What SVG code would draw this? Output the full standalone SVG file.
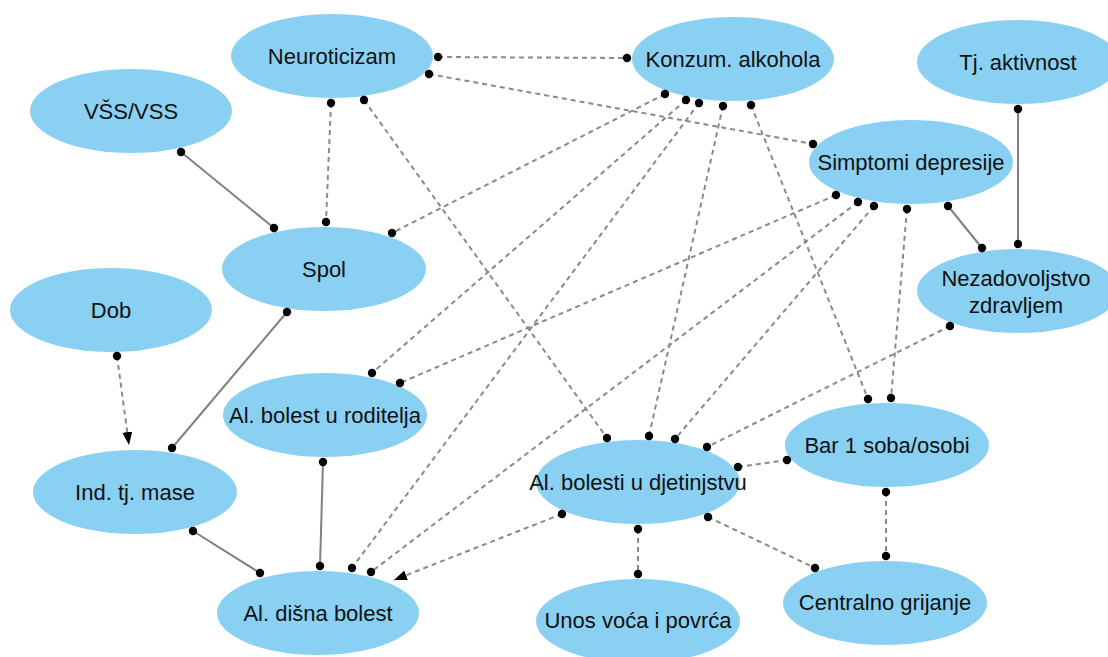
<svg xmlns="http://www.w3.org/2000/svg" width="1108" height="657" viewBox="0 0 1108 657">
<style>
.node ellipse{fill:#8ad0f3;stroke:none}
.node text{font-family:"Liberation Sans",Arial,sans-serif;font-size:22px;fill:#111;text-anchor:middle}
.dash{stroke:#8a8a8a;stroke-width:2;stroke-dasharray:5 4;fill:none}
.solid{stroke:#808080;stroke-width:2;fill:none}
.dot{fill:#000}
</style>
<defs>
<marker id="arr" markerWidth="14" markerHeight="10" refX="13" refY="5" orient="auto" markerUnits="userSpaceOnUse">
<path d="M0,0 L13,5 L0,10 Z" fill="#000"/>
</marker>
</defs>
<g id="n-neuroticizam" class="node"><ellipse cx="332" cy="56" rx="101" ry="42"/><text x="332" y="64">Neuroticizam</text></g>
<g id="n-konzum" class="node"><ellipse cx="733" cy="59" rx="101" ry="42"/><text x="733" y="67">Konzum. alkohola</text></g>
<g id="n-tjakt" class="node"><ellipse cx="1018" cy="62" rx="101" ry="42"/><text x="1018" y="70">Tj. aktivnost</text></g>
<g id="n-vss" class="node"><ellipse cx="131" cy="111" rx="101" ry="42"/><text x="131" y="119">VŠS/VSS</text></g>
<g id="n-simptomi" class="node"><ellipse cx="911" cy="162" rx="102" ry="42"/><text x="911" y="170">Simptomi depresije</text></g>
<g id="n-spol" class="node"><ellipse cx="324" cy="269" rx="102" ry="42"/><text x="324" y="277">Spol</text></g>
<g id="n-nezad" class="node"><ellipse cx="1018" cy="291" rx="101" ry="42"/><text x="1016" y="286">Nezadovoljstvo</text><text x="1016" y="313">zdravljem</text></g>
<g id="n-dob" class="node"><ellipse cx="111" cy="310" rx="101" ry="42"/><text x="111" y="318">Dob</text></g>
<g id="n-roditelja" class="node"><ellipse cx="325" cy="415" rx="102" ry="42"/><text x="325" y="423">Al. bolest u roditelja</text></g>
<g id="n-bar" class="node"><ellipse cx="887" cy="445" rx="102" ry="42"/><text x="887" y="453">Bar 1 soba/osobi</text></g>
<g id="n-djetinjstvo" class="node"><ellipse cx="638" cy="482" rx="102" ry="42"/><text x="638" y="490">Al. bolesti u djetinjstvu</text></g>
<g id="n-itm" class="node"><ellipse cx="135" cy="492" rx="102" ry="42"/><text x="135" y="500">Ind. tj. mase</text></g>
<g id="n-centralno" class="node"><ellipse cx="885" cy="603" rx="102" ry="42"/><text x="885" y="610">Centralno grijanje</text></g>
<g id="n-disna" class="node"><ellipse cx="318" cy="613" rx="101" ry="42"/><text x="318" y="621">Al. dišna bolest</text></g>
<g id="n-unos" class="node"><ellipse cx="638" cy="621" rx="102" ry="42"/><text x="638" y="628">Unos voća i povrća</text></g>
<g id="connectors">
<line class="dash" x1="438" y1="57" x2="627" y2="58"/>
<line class="dash" x1="429" y1="74" x2="813" y2="144"/>
<line class="dash" x1="331" y1="103" x2="326" y2="222"/>
<line class="dash" x1="364" y1="100" x2="607" y2="438"/>
<line class="dash" x1="665" y1="94" x2="392" y2="233"/>
<line class="dash" x1="686" y1="100" x2="372" y2="373"/>
<line class="dash" x1="699" y1="103" x2="352" y2="568"/>
<line class="dash" x1="723" y1="106" x2="649" y2="436"/>
<line class="dash" x1="751" y1="105" x2="868" y2="399"/>
<line class="dash" x1="836" y1="195" x2="400" y2="383"/>
<line class="dash" x1="858" y1="202" x2="371" y2="572"/>
<line class="dash" x1="874" y1="206" x2="675" y2="439"/>
<line class="dash" x1="907" y1="209" x2="891" y2="398"/>
<line class="dash" x1="950" y1="326" x2="707" y2="447"/>
<line class="dash" x1="738" y1="467" x2="787" y2="460"/>
<line class="dash" x1="562" y1="514" x2="394" y2="580" marker-end="url(#arr)"/>
<line class="dash" x1="638" y1="529" x2="638" y2="574"/>
<line class="dash" x1="708" y1="517" x2="815" y2="568"/>
<line class="dash" x1="886" y1="492" x2="886" y2="556"/>
<line class="dash" x1="117" y1="356" x2="129" y2="445" marker-end="url(#arr)"/>
<line class="solid" x1="948" y1="206" x2="982" y2="248"/>
<line class="solid" x1="1018" y1="109" x2="1018" y2="244"/>
<line class="solid" x1="181" y1="152" x2="274" y2="228"/>
<line class="solid" x1="287" y1="312" x2="172" y2="448"/>
<line class="solid" x1="193" y1="531" x2="260" y2="573"/>
<line class="solid" x1="323" y1="462" x2="320" y2="566"/>
<g class="dot">
<circle cx="438" cy="57" r="4.2"/><circle cx="627" cy="58" r="4.2"/>
<circle cx="429" cy="74" r="4.2"/><circle cx="813" cy="144" r="4.2"/>
<circle cx="331" cy="103" r="4.2"/><circle cx="326" cy="222" r="4.2"/>
<circle cx="364" cy="100" r="4.2"/><circle cx="607" cy="438" r="4.2"/>
<circle cx="665" cy="94" r="4.2"/><circle cx="392" cy="233" r="4.2"/>
<circle cx="686" cy="100" r="4.2"/><circle cx="372" cy="373" r="4.2"/>
<circle cx="699" cy="103" r="4.2"/><circle cx="352" cy="568" r="4.2"/>
<circle cx="723" cy="106" r="4.2"/><circle cx="649" cy="436" r="4.2"/>
<circle cx="751" cy="105" r="4.2"/><circle cx="868" cy="399" r="4.2"/>
<circle cx="836" cy="195" r="4.2"/><circle cx="400" cy="383" r="4.2"/>
<circle cx="858" cy="202" r="4.2"/><circle cx="371" cy="572" r="4.2"/>
<circle cx="874" cy="206" r="4.2"/><circle cx="675" cy="439" r="4.2"/>
<circle cx="907" cy="209" r="4.2"/><circle cx="891" cy="398" r="4.2"/>
<circle cx="950" cy="326" r="4.2"/><circle cx="707" cy="447" r="4.2"/>
<circle cx="738" cy="467" r="4.2"/><circle cx="787" cy="460" r="4.2"/>
<circle cx="562" cy="514" r="4.2"/>
<circle cx="638" cy="529" r="4.2"/><circle cx="638" cy="574" r="4.2"/>
<circle cx="708" cy="517" r="4.2"/><circle cx="815" cy="568" r="4.2"/>
<circle cx="886" cy="492" r="4.2"/><circle cx="886" cy="556" r="4.2"/>
<circle cx="117" cy="356" r="4.2"/>
<circle cx="948" cy="206" r="4.2"/><circle cx="982" cy="248" r="4.2"/>
<circle cx="1018" cy="109" r="4.2"/><circle cx="1018" cy="244" r="4.2"/>
<circle cx="181" cy="152" r="4.2"/><circle cx="274" cy="228" r="4.2"/>
<circle cx="287" cy="312" r="4.2"/><circle cx="172" cy="448" r="4.2"/>
<circle cx="193" cy="531" r="4.2"/><circle cx="260" cy="573" r="4.2"/>
<circle cx="323" cy="462" r="4.2"/><circle cx="320" cy="566" r="4.2"/>
</g>
</g>
</svg>
